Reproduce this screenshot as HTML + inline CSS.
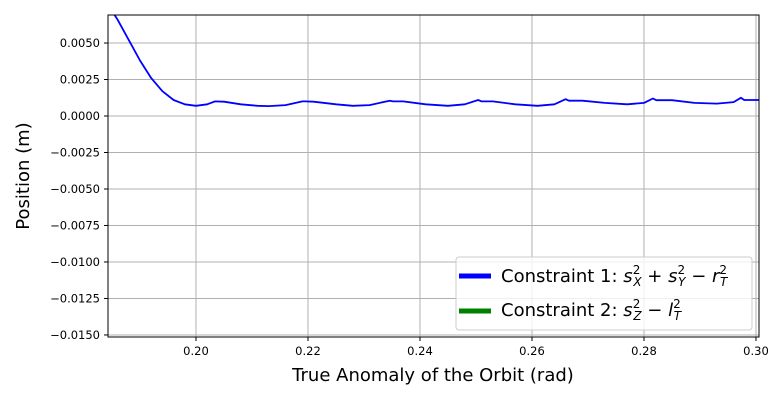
<!DOCTYPE html>
<html><head><meta charset="utf-8"><style>
body{margin:0;background:#fff;}
svg{font-family:"DejaVu Sans","Liberation Sans",sans-serif;}
</style></head><body>
<svg id="chart" width="780" height="400" xmlns="http://www.w3.org/2000/svg">
<defs><clipPath id="clip"><rect x="108" y="15" width="651" height="322"/></clipPath></defs>
<g id="grid"></g>
<g id="ticks"></g>
<g clip-path="url(#clip)"><path id="line1" fill="none" stroke="#0000ff" stroke-width="1.8" stroke-linejoin="round"/></g>
<rect x="108" y="15" width="651" height="322" fill="none" stroke="#000" stroke-width="1"/>
<text x="433" y="381" font-size="18" text-anchor="middle">True Anomaly of the Orbit (rad)</text>
<text transform="translate(29,176) rotate(-90)" font-size="18" text-anchor="middle">Position (m)</text>
<g>
<rect x="456" y="257" width="296" height="73" rx="3" fill="#fff" fill-opacity="0.8" stroke="#ccc"/>
<line x1="459" y1="276" x2="491" y2="276" stroke="#0000ff" stroke-width="5"/>
<text x="501" y="282" font-size="18">Constraint 1: <tspan font-style="italic">s</tspan><tspan font-size="12" dy="-8">2</tspan><tspan font-size="12" font-style="italic" dx="-7" dy="12">X</tspan><tspan dy="-4"> + </tspan><tspan font-style="italic">s</tspan><tspan font-size="12" dy="-8">2</tspan><tspan font-size="12" font-style="italic" dx="-7" dy="12">Y</tspan><tspan dy="-4"> − </tspan><tspan font-style="italic">r</tspan><tspan font-size="12" dy="-8">2</tspan><tspan font-size="12" font-style="italic" dx="-7" dy="12">T</tspan></text>
<line x1="459" y1="311" x2="491" y2="311" stroke="#008000" stroke-width="5"/>
<text x="501" y="316" font-size="18">Constraint 2: <tspan font-style="italic">s</tspan><tspan font-size="12" dy="-8">2</tspan><tspan font-size="12" font-style="italic" dx="-7" dy="12">Z</tspan><tspan dy="-4"> − </tspan><tspan font-style="italic">l</tspan><tspan font-size="12" dy="-8">2</tspan><tspan font-size="12" font-style="italic" dx="-7" dy="12">T</tspan></text>
</g>
</svg>
<script>
const xTicks=[0.20,0.22,0.24,0.26,0.28,0.30];
const xTickLabels=["0.20","0.22","0.24","0.26","0.28","0.30"];
const yTicks=[0.005,0.0025,0,-0.0025,-0.005,-0.0075,-0.01,-0.0125,-0.015];
const yTickLabels=["0.0050","0.0025","0.0000","\u22120.0025","\u22120.0050","\u22120.0075","\u22120.0100","\u22120.0125","\u22120.0150"];
const anomaly=[0.185,0.186,0.188,0.190,0.192,0.194,0.196,0.198,0.200,0.202,0.2034,0.205,0.208,0.211,0.213,0.216,0.219,0.2195,0.221,0.225,0.228,0.231,0.2346,0.2352,0.237,0.241,0.245,0.248,0.2504,0.251,0.253,0.257,0.261,0.264,0.266,0.2666,0.269,0.273,0.277,0.280,0.2816,0.2822,0.285,0.289,0.293,0.296,0.2973,0.2979,0.301];
const constraint1=[0.0072,0.0066,0.0052,0.0038,0.0026,0.0017,0.0011,0.0008,0.0007,0.0008,0.0010,0.00098,0.0008,0.0007,0.00068,0.00075,0.0010,0.0010,0.00098,0.0008,0.0007,0.00075,0.00105,0.0010,0.0010,0.0008,0.0007,0.0008,0.0011,0.0010,0.0010,0.0008,0.0007,0.0008,0.00115,0.00105,0.00105,0.0009,0.0008,0.0009,0.0012,0.00108,0.00108,0.0009,0.00085,0.00095,0.00125,0.0011,0.0011];
const X0=108,X1=759,Y0=15,Y1=337,xmin=0.18429,xmax=0.30054,ymin=-0.01514,ymax=0.00692;
const sx=v=>X0+(v-xmin)/(xmax-xmin)*(X1-X0);
const sy=v=>Y1-(v-ymin)/(ymax-ymin)*(Y1-Y0);
const NS="http://www.w3.org/2000/svg";
const grid=document.getElementById('grid'),ticks=document.getElementById('ticks');
function mk(tag,attrs,parent){const e=document.createElementNS(NS,tag);for(const k in attrs)e.setAttribute(k,attrs[k]);parent.appendChild(e);return e;}
xTicks.forEach((v,i)=>{const x=sx(v);
 const g=mk('line',{x1:x,x2:x,y1:Y0,y2:Y1,stroke:'#b0b0b0','stroke-width':1},grid);
 
 
 const t=mk('line',{x1:x,x2:x,y1:Y1,y2:Y1+4,stroke:'#000'},ticks);
 
 
 const l=mk('text',{x:x,y:Y1+18,'font-size':11.5,'text-anchor':'middle'},ticks);l.textContent=xTickLabels[i];
 
 
});
yTicks.forEach((v,i)=>{const y=sy(v);
 const g=mk('line',{x1:X0,x2:X1,y1:y,y2:y,stroke:'#b0b0b0','stroke-width':1},grid);
 
 
 const t=mk('line',{x1:X0-4,x2:X0,y1:y,y2:y,stroke:'#000'},ticks);
 
 
 const l=mk('text',{x:X0-8,y:y+4,'font-size':11.5,'text-anchor':'end'},ticks);l.textContent=yTickLabels[i];
 
 
});
document.getElementById('line1').setAttribute('d',anomaly.map((v,i)=>(i?'L':'M')+sx(v).toFixed(1)+','+sy(constraint1[i]).toFixed(1)).join(''));
</script>
</body></html>
